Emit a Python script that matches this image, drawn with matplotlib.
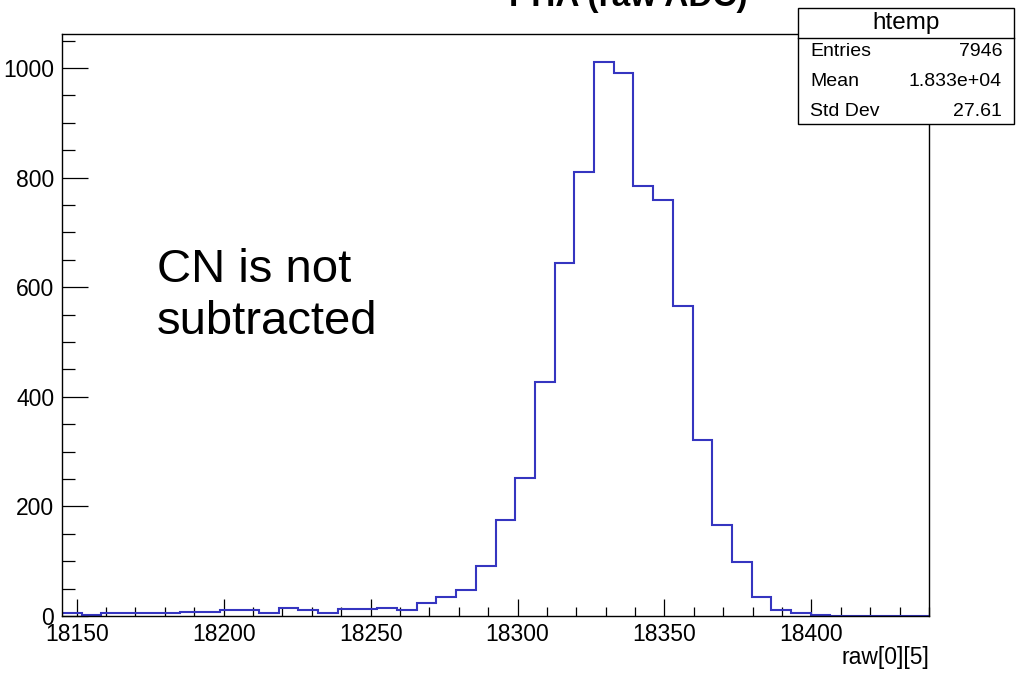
import numpy as np
import matplotlib
matplotlib.use("Agg")
import matplotlib.pyplot as plt
from matplotlib.patches import Rectangle
from matplotlib.lines import Line2D

plt.rcParams['font.family'] = ['Liberation Sans', 'DejaVu Sans']

# ---- data ----
x_min, x_max, n_bins = 18145.0, 18440.0, 44
counts = [5, 2, 5, 5, 5, 5, 8, 8, 11, 11,
          5, 14, 11, 5, 13, 13, 14, 11, 23, 34,
          48, 91, 175, 251, 427, 644, 810, 1010, 991, 785,
          759, 565, 322, 166, 98, 34, 11, 6, 2, 0,
          0, 0, 0, 0]
x_label = "raw[0][5]"
stats_title = "htemp"
stats_rows = [("Entries", "7946"), ("Mean", "1.833e+04"), ("Std Dev", "27.61")]
note_lines = ["CN is not", "subtracted"]
title = "PHA (raw ADC)"

W, H = 1017, 674
fig = plt.figure(figsize=(W / 100, H / 100), dpi=100)

def fx(px):
    return px / W

def fy(py):
    return 1 - py / H

ax_l, ax_r, ax_t, ax_b = 62, 929, 34, 616
ax = fig.add_axes([fx(ax_l), fy(ax_b), fx(ax_r - ax_l), fy(ax_t) - fy(ax_b)])

edges = np.linspace(x_min, x_max, n_bins + 1)
ax.stairs(counts, edges, color='#3535c0', linewidth=1.5, zorder=2)

ax.set_xlim(x_min, x_max)
ax.set_ylim(0, 1062)
ax.set_xticks(np.arange(18150, 18401, 50))
ax.set_xticks(np.arange(18150, 18441, 10), minor=True)
ax.set_yticks(np.arange(0, 1001, 200))
ax.set_yticks(np.arange(0, 1061, 50), minor=True)

for s in ax.spines.values():
    s.set_linewidth(1.0)
    s.set_color('black')

ax.tick_params(axis='x', which='major', direction='in', length=12.5, width=0.9,
               labelsize=16.5, pad=5)
ax.tick_params(axis='x', which='minor', direction='in', length=6.2, width=0.9)
ax.tick_params(axis='y', which='major', direction='in', length=19, width=0.9,
               labelsize=16.5, pad=5.5)
ax.tick_params(axis='y', which='minor', direction='in', length=9.5, width=0.9)
ax.tick_params(top=False, right=False, which='both')

ax.text(1.0, -0.072, x_label, transform=ax.transAxes, ha='right', va='center',
        fontsize=16.5)

# note text
ax.text(fx(157), fy(282), note_lines[0], transform=fig.transFigure,
        fontsize=34, ha='left', va='baseline')
ax.text(fx(157), fy(334), note_lines[1], transform=fig.transFigure,
        fontsize=34, ha='left', va='baseline')

# clipped title at top
fig.text(fx(628), fy(6), title, ha='center', va='baseline', fontsize=24,
         fontweight='bold')

# stats box
bx_l, bx_r, bx_t, bx_b, bx_sep = 798, 1014, 8, 124, 38
fig.add_artist(Rectangle((fx(bx_l), fy(bx_b)), fx(bx_r - bx_l), fy(bx_t) - fy(bx_b),
                         transform=fig.transFigure, facecolor='white',
                         edgecolor='black', linewidth=1.0, zorder=5))
fig.add_artist(Line2D([fx(bx_l), fx(bx_r)], [fy(bx_sep), fy(bx_sep)],
                      transform=fig.transFigure, color='black', linewidth=1.0,
                      zorder=6))
fig.text(fx((bx_l + bx_r) / 2), fy(23), stats_title, ha='center', va='center',
         fontsize=17.5, zorder=7)
row_y = [51, 81, 111]
for (lab, val), yy in zip(stats_rows, row_y):
    fig.text(fx(810), fy(yy), lab, ha='left', va='center', fontsize=14, zorder=7)
    fig.text(fx(1002), fy(yy), val, ha='right', va='center', fontsize=14, zorder=7)

fig.savefig("out.png", dpi=100)
